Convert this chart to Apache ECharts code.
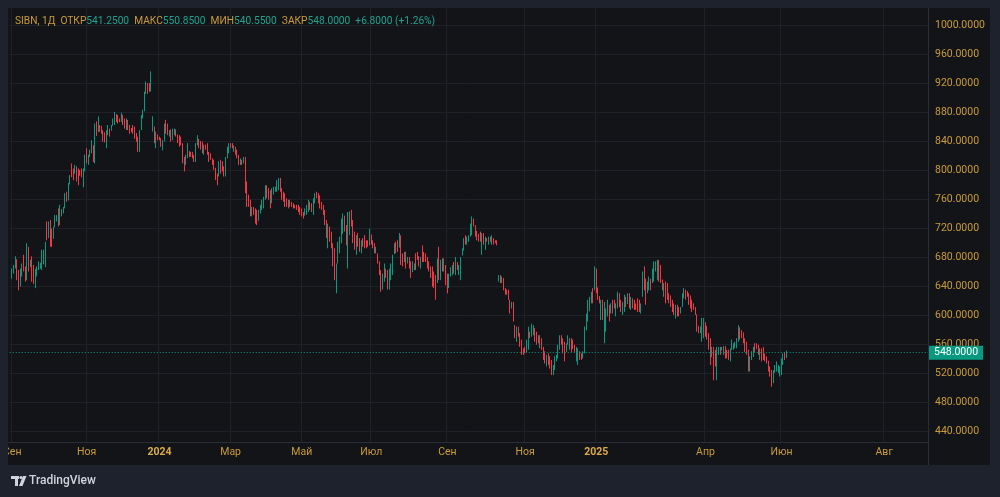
<!DOCTYPE html>
<html><head><meta charset="utf-8">
<script src="https://cdn.jsdelivr.net/npm/echarts@6/dist/echarts.min.js"></script>
<style>
html,body{margin:0;padding:0;background:#1e222d;overflow:hidden;}
#pane{position:absolute;left:8px;top:8px;width:982px;height:457px;background:#131418;}
#c{position:absolute;left:0;top:0;width:1000px;height:497px;}
#cover{position:absolute;left:0;top:440px;width:8px;height:30px;background:#1e222d;}
</style>
</head><body><div id="pane"></div><div id="c"></div><div id="cover"></div>
<script>
// ---------- DATA ----------
const ticker = 'SIBN, 1Д';
const ohlcNames = ['ОТКР', 'МАКС', 'МИН', 'ЗАКР'];
const priceTicks = [440, 480, 520, 560, 600, 640, 680, 720, 760, 800, 840, 880, 920, 960, 1000];
const monthLabels = ['Сен', 'Ноя', '2024', 'Мар', 'Май', 'Июл', 'Сен', 'Ноя', '2025', 'Апр', 'Июн', 'Авг'];
const monthBars = [0, 45, 89, 132, 175, 217, 263, 310, 353, 419, 465, 527];
// daily candles: [open, close, low, high]
const candles = [
[653,661,650,664],[658,666,657,669],[666,678,664,681],[676,660,648,677],[660,642,634,662],[643,658,639,664],[656,668,653,671],[680,663,660,683],[664,649,646,667],[650,688,648,699],
[690,668,660,694],[668,674,666,676],[676,654,646,681],[658,648,643,669],[645,656,637,664],[654,664,653,667],[663,671,662,674],[666,671,664,672],[670,686,662,690],[676,688,670,690],
[686,699,666,701],[726,706,703,729],[708,726,706,729],[728,698,694,731],[712,700,694,719],[706,720,705,722],[722,736,721,738],[731,737,729,738],[744,726,722,747],[727,748,724,752],
[742,745,736,746],[742,748,740,749],[748,765,747,768],[768,758,756,770],[760,780,758,782],[781,791,780,793],[806,792,790,809],[800,788,786,802],[796,805,795,807],[803,788,784,805],
[796,782,779,802],[799,794,792,800],[800,792,790,802],[780,800,776,802],[800,818,798,821],[826,812,809,830],[810,819,807,821],[819,826,818,828],[825,839,823,841],[832,814,811,834],
[814,860,809,864],[864,850,847,867],[853,870,852,874],[862,855,853,862],[858,852,850,861],[852,842,839,855],[846,840,838,852],[834,852,830,855],[850,860,848,862],[857,849,846,857],
[855,861,854,862],[862,870,861,871],[866,878,862,880],[876,868,866,877],[874,866,864,876],[870,867,866,871],[867,877,866,879],[875,864,862,876],[868,860,857,871],[859,869,855,871],
[868,856,855,869],[860,852,850,862],[855,853,852,858],[860,851,850,862],[856,846,843,860],[848,840,839,851],[842,828,825,846],[828,852,825,855],[856,874,855,876],[872,881,871,883],
[882,905,881,908],[906,920,905,922],[919,908,905,920],[914,910,908,920],[910,934,908,936],[856,872,853,874],[858,840,837,860],[834,850,830,853],[848,842,841,849],[844,842,841,846],
[842,834,832,844],[830,840,827,841],[840,862,839,864],[866,854,850,869],[858,850,848,864],[848,854,846,855],[855,842,839,856],[843,854,841,857],[852,856,848,857],[855,849,846,856],
[848,840,837,849],[846,834,832,848],[840,836,834,846],[836,812,809,837],[816,800,798,818],[808,818,807,821],[818,834,816,837],[825,820,818,826],[824,819,818,825],[822,817,816,825],
[818,812,811,821],[813,834,811,837],[834,845,834,848],[841,832,830,843],[838,830,828,840],[834,824,823,839],[824,832,821,835],[834,830,828,835],[832,822,821,837],[823,813,811,825],
[818,815,814,823],[816,809,807,816],[812,802,800,814],[802,790,786,803],[792,781,779,795],[792,808,791,812],[810,798,795,814],[806,800,798,812],[802,792,791,805],[792,815,791,818],
[816,830,816,832],[826,835,823,837],[836,832,830,837],[836,831,830,837],[828,834,825,834],[832,824,821,832],[827,818,816,828],[818,808,807,821],[808,815,807,816],[814,808,807,814],
[810,816,809,818],[816,774,768,818],[782,756,749,784],[764,752,749,766],[757,740,736,759],[738,748,736,749],[749,740,738,749],[745,730,726,747],[740,726,724,745],[731,742,730,745],
[742,750,740,752],[748,756,745,759],[752,761,747,763],[760,776,759,779],[776,764,761,779],[770,762,759,775],[764,748,747,772],[756,770,754,775],[766,772,766,777],[770,775,770,777],
[770,784,770,786],[776,786,772,789],[786,775,770,789],[774,762,759,775],[766,758,756,770],[762,752,749,768],[756,752,749,761],[754,749,747,759],[750,756,749,759],[756,751,749,756],
[752,748,747,754],[750,748,747,752],[750,746,745,752],[748,745,742,752],[746,741,738,749],[742,738,736,747],[740,735,733,742],[738,745,737,747],[740,750,738,752],[746,756,742,759],
[756,748,745,756],[750,745,742,754],[743,760,738,761],[756,766,754,768],[768,764,761,770],[766,756,754,768],[760,752,747,765],[754,749,745,756],[750,742,738,752],[744,728,724,745],
[730,708,706,731],[700,722,692,726],[720,706,701,722],[712,696,692,715],[698,672,667,699],[676,654,648,692],[640,660,630,671],[672,695,671,701],[690,700,685,708],[703,728,699,733],
[726,738,712,740],[736,722,715,737],[722,702,696,724],[705,735,664,742],[730,740,710,743],[744,728,722,745],[728,705,699,731],[708,695,690,715],[690,706,683,710],[710,700,694,713],
[702,690,687,706],[688,700,685,703],[703,697,694,706],[706,694,692,710],[700,694,692,703],[702,697,694,703],[697,716,696,719],[710,700,697,711],[702,694,692,703],[698,688,685,699],
[686,692,685,694],[685,674,671,685],[674,658,655,674],[660,640,632,662],[640,654,635,657],[652,668,646,671],[664,652,651,664],[655,640,635,662],[640,660,635,664],[656,668,648,671],
[664,680,655,683],[685,696,684,699],[698,688,685,701],[694,690,687,703],[694,708,693,713],[708,672,669,710],[682,670,667,685],[674,684,673,687],[685,670,664,687],[672,678,671,680],
[678,668,664,680],[670,654,651,674],[660,670,659,674],[665,670,662,671],[682,670,662,685],[686,680,676,687],[680,670,667,681],[668,678,664,680],[694,678,673,696],[684,676,673,687],
[684,676,673,685],[678,668,664,680],[670,662,660,674],[664,652,651,667],[660,642,639,667],[650,640,637,660],[648,628,621,655],[645,674,644,678],[690,656,648,694],[660,672,648,676],
[676,664,660,678],[664,676,660,678],[668,648,641,669],[652,636,630,657],[638,652,637,657],[655,664,653,666],[658,666,655,669],[668,660,657,673],[660,676,655,680],[672,666,662,673],
[660,668,655,669],[664,678,648,680],[683,690,682,692],[690,702,689,706],[706,698,697,710],[698,706,697,708],[704,708,701,710],[710,722,708,726],[716,732,710,736],[732,726,722,733],
[722,714,708,724],[714,708,703,716],[710,706,701,712],[712,704,701,715],[700,710,683,713],[712,704,697,713],[698,706,690,708],[705,703,701,706],[700,706,697,708],[706,702,701,708],
[700,706,697,710],[704,700,697,706],[702,700,699,703],[702,698,696,703],
[648,654,646,655],[654,646,644,655],[646,651,644,653],[650,636,634,651],[637,630,628,637],[634,629,628,635],[632,622,621,635],[621,606,602,621],[610,616,609,618],[616,594,591,618],
[585,570,568,586],[568,580,563,584],[582,574,570,584],[574,560,556,575],[562,548,545,566],[552,547,545,554],[552,548,547,556],[549,562,548,566],[556,580,552,584],[576,570,568,577],
[572,586,570,588],[578,584,572,586],[582,566,563,582],[574,562,559,577],[570,563,561,572],[558,570,554,572],[568,554,552,568],[554,540,538,556],[546,536,533,550],[532,544,529,545],
[546,534,531,547],[540,530,526,543],[532,522,517,538],[520,530,517,531],[528,540,524,543],[538,544,536,545],[542,556,540,559],[554,568,552,572],[570,562,559,572],[564,550,547,568],
[552,540,536,563],[550,558,549,561],[560,568,559,572],[556,566,552,568],[566,552,549,568],[560,554,553,566],[556,550,549,559],[540,552,536,556],[536,550,531,554],[548,540,538,550],
[546,540,538,547],[542,548,540,550],[548,580,547,584],[580,598,579,602],[596,616,591,621],[610,622,605,625],[618,628,616,632],[634,620,616,637],[636,660,634,667],[662,640,630,664],
[636,624,621,638],[626,618,616,626],[600,616,593,621],[618,600,593,621],[600,612,561,618],[595,608,577,609],[606,618,598,621],[612,598,591,614],[604,614,602,616],[618,606,602,621],
[616,612,609,621],[602,614,598,616],[612,628,609,632],[626,614,611,630],[616,606,604,621],[604,616,600,618],[612,626,604,628],[624,614,611,625],[616,626,615,630],[628,612,609,630],
[610,622,607,625],[622,612,609,623],[616,610,607,621],[614,610,607,616],[620,608,604,623],[614,606,604,621],[604,614,602,616],[626,654,625,660],[664,640,634,667],[644,628,614,650],
[634,644,630,646],[642,652,634,653],[648,640,634,650],[646,660,644,664],[658,670,646,674],[664,672,660,674],[664,674,648,676],[674,656,646,676],[666,648,644,669],[648,638,634,649],
[632,642,625,644],[644,622,616,646],[632,624,621,644],[628,618,616,630],[622,614,611,627],[618,606,604,621],[612,604,600,616],[598,610,595,614],[612,600,598,614],[606,600,598,611],
[603,609,602,611],[612,626,611,630],[624,634,623,637],[634,626,621,635],[632,628,625,633],[628,618,614,630],[626,612,609,627],[618,608,604,621],[612,608,607,616],[610,602,600,611],
[600,584,577,601],[584,578,575,585],[576,582,575,584],[574,594,563,596],[586,594,568,596],[588,580,570,590],[584,572,566,585],[572,560,552,575],[566,545,531,568],[546,552,542,556],
[554,530,510,556],[545,534,529,552],[520,552,510,556],[548,554,545,556],[554,548,545,556],[552,555,551,556],[548,556,545,557],[556,542,540,557],[548,542,540,552],[546,540,538,552],
[538,552,536,554],[554,562,552,566],[556,560,552,561],[558,562,554,563],[558,566,554,568],[566,584,563,586],[582,572,566,583],[578,574,568,579],[575,566,561,576],[566,552,549,568],
[560,548,545,563],[546,528,522,552],[528,542,522,543],[540,548,538,550],[548,554,542,556],[558,552,549,561],[558,554,553,561],[556,548,545,559],[540,550,538,554],[552,540,536,554],
[550,540,538,556],[546,538,536,547],[540,535,533,543],[536,526,522,537],[528,520,515,529],[522,508,501,524],[510,522,506,524],[522,528,520,531],[526,534,522,536],[524,530,520,531],
[518,526,515,529],[522,536,517,540],[536,544,531,547],[546,541.2,538,549],[541.25,548,540.55,550.85]
];

// ---------- BUILD ----------
const UP = '#089981', DOWN = '#f23645', GOLD = '#c99c38', TEAL = '#1fa38e';
const PAD = 1, SLOTS = 555;
const cats = Array.from({length: SLOTS}, (_, i) => String(i));
const seriesData = cats.map((_, i) => {
  const k = i - PAD;
  return (k >= 0 && k < candles.length) ? candles[k] : '-';
});
const labelAt = {};
monthBars.forEach((b, j) => { labelAt[b + PAD] = monthLabels[j]; });

const last = candles[candles.length - 1];
const prev = candles[candles.length - 2];
const chg = last[1] - prev[1];
const pct = chg / prev[1] * 100;
const f4 = v => v.toFixed(4);
const sign = chg >= 0 ? '+' : '';
const legendText =
  `{g|${ticker}}  {g|${ohlcNames[0]}}{v|${f4(last[0])}}  {g|${ohlcNames[1]}}{v|${f4(last[3])}}  ` +
  `{g|${ohlcNames[2]}}{v|${f4(last[2])}}  {g|${ohlcNames[3]}}{v|${f4(last[1])}}  ` +
  `{v|${sign}${f4(chg)} (${sign}${pct.toFixed(2)}%)}`;

const FONT = 'Roboto, "Liberation Sans", sans-serif';
const LFS = 10.2;
const chart = echarts.init(document.getElementById('c'), null, {renderer: 'canvas'});
chart.setOption({
  backgroundColor: 'transparent',
  animation: false,
  title: {
    left: 15, top: 16, padding: 0,
    text: legendText,
    textStyle: {
      fontFamily: FONT, fontSize: LFS, fontWeight: 'normal',
      rich: {
        g: {color: GOLD, fontFamily: FONT, fontSize: LFS},
        v: {color: TEAL, fontFamily: FONT, fontSize: LFS}
      }
    }
  },
  grid: {left: 8, top: 8, width: 920, height: 434, containLabel: false},
  xAxis: {
    type: 'category', data: cats, boundaryGap: true,
    axisLine: {show: false}, axisTick: {show: false},
    axisLabel: {
      interval: (i) => labelAt[i] !== undefined,
      formatter: (v) => {
        const t = labelAt[Number(v)];
        if (t === undefined) return '';
        return /^\d{4}$/.test(t) ? `{y|${t}}` : t;
      },
      color: GOLD, fontFamily: FONT, fontSize: 10.5, margin: 5,
      rich: {y: {color: '#dcab45', fontWeight: 'bold', fontFamily: FONT, fontSize: 10.5}}
    },
    splitLine: {show: true, interval: (i) => labelAt[i] !== undefined, lineStyle: {color: '#1e2128', width: 1}}
  },
  yAxis: {
    type: 'value', position: 'right', min: 424.8, max: 1023.4,
    axisLine: {show: false},
    axisTick: {show: false, customValues: priceTicks},
    axisLabel: {customValues: priceTicks, formatter: v => v.toFixed(4), color: GOLD, fontFamily: FONT, fontSize: 10.5, margin: 7, align: 'left'},
    splitLine: {show: true, lineStyle: {color: '#1e2128', width: 1}}
  },
  series: [{
    type: 'candlestick', data: seriesData, barWidth: 1,
    itemStyle: {color: UP, color0: DOWN, borderColor: UP, borderColor0: DOWN, borderWidth: 1},
    markLine: {
      silent: true, symbol: ['none', 'none'], animation: false,
      data: [{yAxis: last[1]}],
      lineStyle: {color: UP, type: [1, 2], width: 1},
      label: {show: true, position: 'end', distance: 0, formatter: () => f4(last[1]),
        backgroundColor: UP, color: '#ffffff', padding: [2, 5, 1, 6], fontFamily: FONT, fontSize: 10.5}
    }
  }],
  graphic: [
    {type: 'line', z: 50, silent: true, shape: {x1: 928.5, y1: 8, x2: 928.5, y2: 465}, style: {stroke: '#2a2e39', lineWidth: 1}},
    {type: 'line', z: 50, silent: true, shape: {x1: 8, y1: 442.5, x2: 928, y2: 442.5}, style: {stroke: '#2a2e39', lineWidth: 1}},
    // TradingView logo
    {type: 'rect', z: 60, silent: true, shape: {x: 11, y: 476, width: 8, height: 3}, style: {fill: '#d1d4dc'}},
    {type: 'rect', z: 60, silent: true, shape: {x: 15, y: 476, width: 3, height: 10}, style: {fill: '#d1d4dc'}},
    {type: 'circle', z: 60, silent: true, shape: {cx: 21, cy: 477.5, r: 1.6}, style: {fill: '#d1d4dc'}},
    {type: 'polygon', z: 60, silent: true, shape: {points: [[23, 476], [26.5, 476], [22.5, 486], [19, 486]]}, style: {fill: '#d1d4dc'}},
    {type: 'text', z: 60, silent: true, x: 29, y: 481,
      style: {text: 'TradingView', fill: '#d1d4dc', font: '500 12px ' + FONT, verticalAlign: 'middle'}}
  ]
});
</script>
</body></html>
